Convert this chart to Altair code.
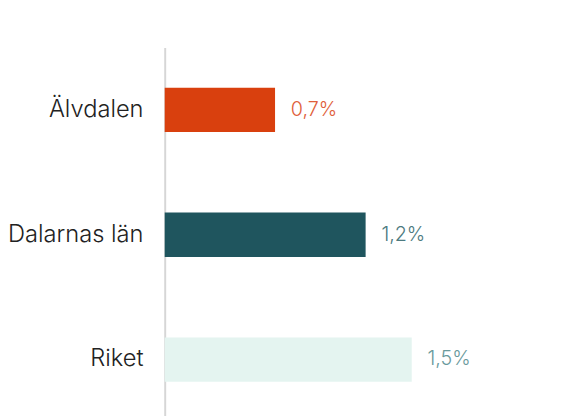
import altair as alt
import pandas as pd

categories = ["Älvdalen", "Dalarnas län", "Riket"]
values = [0.67, 1.22, 1.5]
value_labels = ["0,7%", "1,2%", "1,5%"]
bar_colors = ["#d9400e", "#1f555e", "#e4f4f0"]
text_colors = ["#e0603a", "#4c7a80", "#6a9a9c"]

df = pd.DataFrame({
    "cat": categories,
    "val": values,
    "lab": value_labels,
    "bc": bar_colors,
    "tc": text_colors,
})

FONT = "Inter"

y = alt.Y("cat:N", sort=categories, title=None,
          scale=alt.Scale(paddingInner=0.645, paddingOuter=0.3225),
          axis=alt.Axis(domain=True, domainColor="#d6d6d6", domainWidth=2,
                        ticks=False, grid=False, labelFontSize=24,
                        labelColor="#222222", labelPadding=22,
                        labelFont=FONT, labelFontWeight=300))
x = alt.X("val:Q", axis=None, scale=alt.Scale(domain=[0, 2.37], nice=False, zero=True))

bars = alt.Chart(df).mark_bar().encode(
    y=y, x=x, color=alt.Color("bc:N", scale=None)
)
text = alt.Chart(df).mark_text(align="left", baseline="middle", dx=16,
                               fontSize=20, font=FONT, fontWeight=300).encode(
    y=alt.Y("cat:N", sort=categories), x="val:Q",
    text="lab:N", color=alt.Color("tc:N", scale=None)
)

chart = (bars + text).properties(
    width=396, height=380,
    autosize=alt.AutoSizeParams(type="none"),
    padding={"left": 159, "top": 37, "right": 0, "bottom": 0},
).configure(background="white").configure_view(stroke=None, strokeWidth=0)

chart.save("out.html", embed_options={"renderer": "svg", "actions": False})
